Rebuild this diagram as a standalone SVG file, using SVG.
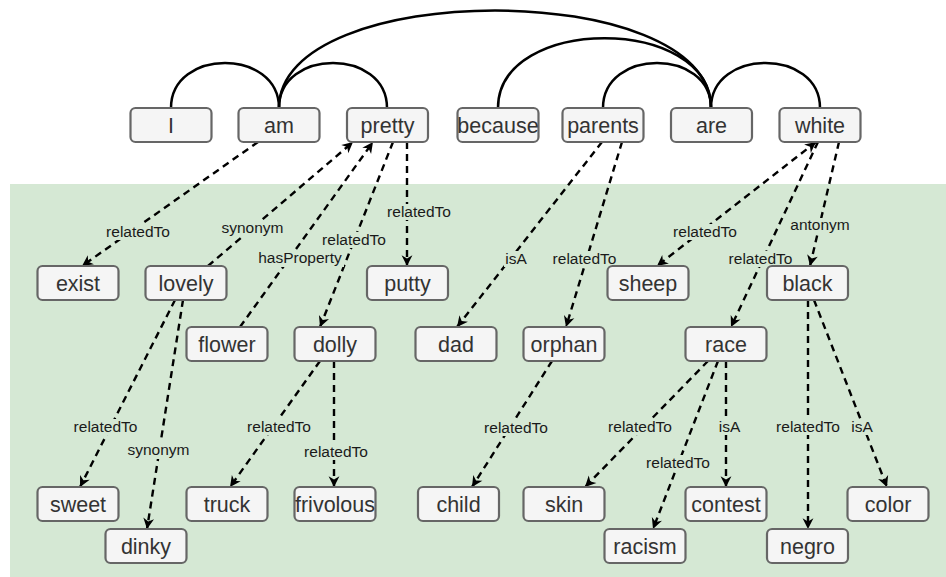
<svg xmlns="http://www.w3.org/2000/svg" width="946" height="577" viewBox="0 0 946 577">
  <style>
    .node rect { fill: #f5f5f5; stroke: #666666; stroke-width: 2.2; }
    .node text { font-family: "Liberation Sans", Arial, sans-serif; font-size: 21.5px; fill: #333333; text-anchor: middle; }
    .arc { fill: none; stroke: #000000; stroke-width: 2.5; }
    .edge { fill: none; stroke: #000000; stroke-width: 2.4; stroke-dasharray: 7 5; marker-end: url(#arrow); }
    .lbl rect { fill: #d5e8d4; stroke: none; }
    .lbl text { font-family: "Liberation Sans", Arial, sans-serif; font-size: 15.5px; fill: #1a1a1a; text-anchor: middle; }
  </style>
  <defs>
    <marker id="arrow" viewBox="0 0 12 12" refX="11" refY="6" markerWidth="13" markerHeight="13" orient="auto-start-reverse" markerUnits="userSpaceOnUse">
      <path d="M1,1 L11,6 L1,11 L4,6 Z" fill="#000000" stroke="none"/>
    </marker>
  </defs>

  <!-- white page and the green concept area -->
  <rect x="0" y="0" width="946" height="577" fill="#ffffff"/>
  <rect x="10" y="184" width="936" height="393" fill="#d5e8d4"/>

  <!-- dependency arcs between the sentence words -->
  <g id="dependency-arcs">
    <path class="arc" d="M171,108 C171,48 279,48 279,108"/>
    <path class="arc" d="M279,108 C279,48 387,48 387,108"/>
    <path class="arc" d="M279,108 C279,-22 711,-22 711,108"/>
    <path class="arc" d="M498,108 C498,15 711,15 711,108"/>
    <path class="arc" d="M603,108 C603,48 711,48 711,108"/>
    <path class="arc" d="M711,108 C711,48 820,48 820,108"/>
  </g>

  <!-- dashed relation connectors -->
  <g id="connectors">
    <path class="edge" d="M258,142 L82,266"/>
    <path class="edge" d="M208,266 L353,142"/>
    <path class="edge" d="M240,327 L373,142"/>
    <path class="edge" d="M393,142 L320,327"/>
    <path class="edge" d="M407,142 L407,266"/>
    <path class="edge" d="M602,142 L457,327"/>
    <path class="edge" d="M622,142 L566,327"/>
    <path class="edge" d="M816,142 L657,266" style="marker-start: url(#arrow)"/>
    <path class="edge" d="M818,142 L731,327"/>
    <path class="edge" d="M839,142 L810,266"/>
    <path class="edge" d="M175,300 L80,487"/>
    <path class="edge" d="M183,300 L147,529"/>
    <path class="edge" d="M320,361 L230,487"/>
    <path class="edge" d="M334,361 L334,487"/>
    <path class="edge" d="M552,361 L472,487"/>
    <path class="edge" d="M708,361 L585,487"/>
    <path class="edge" d="M718,361 L653,529"/>
    <path class="edge" d="M726,361 L726,487"/>
    <path class="edge" d="M808,300 L808,529"/>
    <path class="edge" d="M814,300 L887,487"/>
  </g>

  <!-- connector labels -->
  <g id="connector-labels">
    <g class="lbl"><rect x="104" y="224" width="68" height="16"/><text x="138" y="237">relatedTo</text></g>
    <g class="lbl"><rect x="219" y="220" width="67" height="17"/><text x="252.5" y="233">synonym</text></g>
    <g class="lbl"><rect x="256" y="250" width="88" height="17"/><text x="300" y="263">hasProperty</text></g>
    <g class="lbl"><rect x="320" y="232" width="68" height="16"/><text x="354" y="245">relatedTo</text></g>
    <g class="lbl"><rect x="385" y="204" width="68" height="16"/><text x="419" y="217">relatedTo</text></g>
    <g class="lbl"><rect x="504" y="251" width="24" height="16"/><text x="516" y="264">isA</text></g>
    <g class="lbl"><rect x="550" y="251" width="68" height="16"/><text x="584.5" y="264">relatedTo</text></g>
    <g class="lbl"><rect x="671" y="224" width="68" height="16"/><text x="705" y="237">relatedTo</text></g>
    <g class="lbl"><rect x="726" y="251" width="68" height="16"/><text x="760.5" y="264">relatedTo</text></g>
    <g class="lbl"><rect x="788" y="218" width="64" height="17"/><text x="820" y="230">antonym</text></g>
    <g class="lbl"><rect x="71" y="419" width="68" height="16"/><text x="105.5" y="432">relatedTo</text></g>
    <g class="lbl"><rect x="125" y="442" width="67" height="17"/><text x="158.5" y="455">synonym</text></g>
    <g class="lbl"><rect x="245" y="419" width="68" height="16"/><text x="279" y="432">relatedTo</text></g>
    <g class="lbl"><rect x="302" y="444" width="68" height="16"/><text x="336" y="457">relatedTo</text></g>
    <g class="lbl"><rect x="482" y="420" width="68" height="16"/><text x="516" y="433">relatedTo</text></g>
    <g class="lbl"><rect x="606" y="419" width="68" height="16"/><text x="640" y="432">relatedTo</text></g>
    <g class="lbl"><rect x="644" y="455" width="68" height="16"/><text x="678" y="468">relatedTo</text></g>
    <g class="lbl"><rect x="717" y="419" width="25" height="16"/><text x="729.5" y="432">isA</text></g>
    <g class="lbl"><rect x="774" y="419" width="68" height="16"/><text x="808" y="432">relatedTo</text></g>
    <g class="lbl"><rect x="850" y="419" width="24" height="16"/><text x="862" y="432">isA</text></g>
  </g>

  <!-- sentence words -->
  <g id="w-I" class="node"><rect x="130.5" y="108" width="81" height="34" rx="5"/><text x="171" y="132.5">I</text></g>
  <g id="w-am" class="node"><rect x="238.5" y="108" width="81" height="34" rx="5"/><text x="279" y="132.5">am</text></g>
  <g id="w-pretty" class="node"><rect x="347" y="108" width="81" height="34" rx="5"/><text x="387.5" y="132.5">pretty</text></g>
  <g id="w-because" class="node"><rect x="457.5" y="108" width="81" height="34" rx="5"/><text x="498" y="132.5">because</text></g>
  <g id="w-parents" class="node"><rect x="562.5" y="108" width="81" height="34" rx="5"/><text x="603" y="132.5">parents</text></g>
  <g id="w-are" class="node"><rect x="671" y="108" width="81" height="34" rx="5"/><text x="711.5" y="132.5">are</text></g>
  <g id="w-white" class="node"><rect x="779.5" y="108" width="81" height="34" rx="5"/><text x="820" y="132.5">white</text></g>

  <!-- related concepts -->
  <g id="c-exist" class="node"><rect x="37.5" y="266" width="81" height="34" rx="5"/><text x="78" y="290.5">exist</text></g>
  <g id="c-lovely" class="node"><rect x="145.5" y="266" width="81" height="34" rx="5"/><text x="186" y="290.5">lovely</text></g>
  <g id="c-putty" class="node"><rect x="367" y="266" width="81" height="34" rx="5"/><text x="407.5" y="290.5">putty</text></g>
  <g id="c-sheep" class="node"><rect x="607.5" y="266" width="81" height="34" rx="5"/><text x="648" y="290.5">sheep</text></g>
  <g id="c-black" class="node"><rect x="767" y="266" width="81" height="34" rx="5"/><text x="807.5" y="290.5">black</text></g>

  <g id="c-flower" class="node"><rect x="186.5" y="327" width="81" height="34" rx="5"/><text x="227" y="351.5">flower</text></g>
  <g id="c-dolly" class="node"><rect x="294.5" y="327" width="81" height="34" rx="5"/><text x="335" y="351.5">dolly</text></g>
  <g id="c-dad" class="node"><rect x="415.5" y="327" width="81" height="34" rx="5"/><text x="456" y="351.5">dad</text></g>
  <g id="c-orphan" class="node"><rect x="523.5" y="327" width="81" height="34" rx="5"/><text x="564" y="351.5">orphan</text></g>
  <g id="c-race" class="node"><rect x="685.5" y="327" width="81" height="34" rx="5"/><text x="726" y="351.5">race</text></g>

  <g id="c-sweet" class="node"><rect x="37.5" y="487" width="81" height="34" rx="5"/><text x="78" y="511.5">sweet</text></g>
  <g id="c-truck" class="node"><rect x="186.5" y="487" width="81" height="34" rx="5"/><text x="227" y="511.5">truck</text></g>
  <g id="c-frivolous" class="node"><rect x="294.5" y="487" width="81" height="34" rx="5"/><text x="335" y="511.5">frivolous</text></g>
  <g id="c-child" class="node"><rect x="418" y="487" width="81" height="34" rx="5"/><text x="458.5" y="511.5">child</text></g>
  <g id="c-skin" class="node"><rect x="523.5" y="487" width="81" height="34" rx="5"/><text x="564" y="511.5">skin</text></g>
  <g id="c-contest" class="node"><rect x="685.5" y="487" width="81" height="34" rx="5"/><text x="726" y="511.5">contest</text></g>
  <g id="c-color" class="node"><rect x="847.5" y="487" width="81" height="34" rx="5"/><text x="888" y="511.5">color</text></g>

  <g id="c-dinky" class="node"><rect x="105.5" y="529" width="81" height="34" rx="5"/><text x="146" y="553.5">dinky</text></g>
  <g id="c-racism" class="node"><rect x="604.5" y="529" width="81" height="34" rx="5"/><text x="645" y="553.5">racism</text></g>
  <g id="c-negro" class="node"><rect x="767" y="529" width="81" height="34" rx="5"/><text x="807.5" y="553.5">negro</text></g>
</svg>
